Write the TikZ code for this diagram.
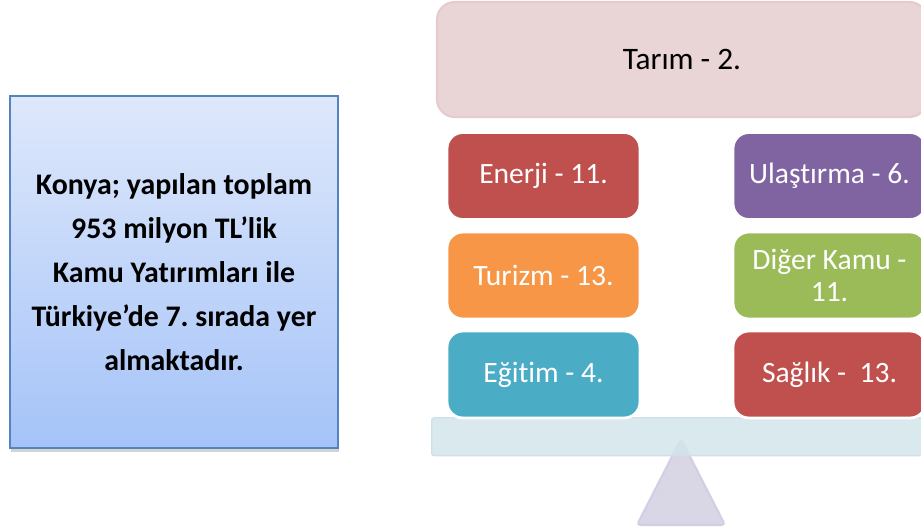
\documentclass[tikz,border=0pt]{standalone}
\usepackage{fontspec}
\setmainfont[Ligatures=NoCommon]{Carlito}
\frenchspacing
\usetikzlibrary{positioning, shadows}
\definecolor{cinfotop}{HTML}{DEE8FB}
\definecolor{cinfobot}{HTML}{A5C3F8}
\definecolor{cinfoline}{HTML}{5384C0}
\definecolor{ctarim}{HTML}{EAD5D6}
\definecolor{ctarimline}{HTML}{E5CBCC}
\definecolor{cred}{HTML}{C0504D}
\definecolor{corange}{HTML}{F79646}
\definecolor{cteal}{HTML}{4BACC6}
\definecolor{cpurple}{HTML}{8064A2}
\definecolor{cgreen}{HTML}{9BBB59}
\definecolor{cbeam}{HTML}{D3E5EB}
\definecolor{cbeamline}{HTML}{CFE1E8}
\definecolor{cpivot}{HTML}{D9D6E5}
\definecolor{cpivotline}{HTML}{D3CEE3}
\tikzset{
  every picture/.style={x=0.02cm, y=-0.02cm, line width=0.8pt},
  tile/.style={fill=#1, draw=white, line width=1.6pt, rounded corners=9pt, align=center,
    minimum width=3.86cm, minimum height=1.74cm, text=white, inner sep=2pt,
    font=\fontsize{16.8}{18.5}\selectfont},
  tile/.default=cred,
  info/.style={draw=cinfoline, top color=cinfotop, bottom color=cinfobot, align=center,
    minimum width=6.56cm, minimum height=7.04cm, line width=1pt,
    drop shadow={shadow xshift=0.5pt, shadow yshift=-2.5pt, opacity=0.35},
    font=\bfseries\fontsize{17}{25}\selectfont},
  head/.style={draw=ctarimline, fill=ctarim, rounded corners=10pt, line width=1.2pt,
    minimum width=9.8cm, minimum height=2.3cm, font=\fontsize{17.8}{19}\selectfont},
  beam/.style={draw=cbeamline, fill=cbeam, fill opacity=0.85, rounded corners=1.5pt,
    minimum width=10cm, minimum height=0.76cm, inner sep=0pt},
  pivot/.style={draw=cpivotline, fill=cpivot, line width=1.2pt, rounded corners=2pt},
}

\begin{document}
\begin{tikzpicture}
  \useasboundingbox (0,0) rectangle (921,531);

  % balance: pivot and beam
  \draw[pivot] (681,439) -- (725,525) -- (637,525) -- cycle;
  \node[beam, anchor=north west] (beam) at (431,417) {};

  % left info box
  \node[info] (konya) at (174,272) {Konya; yapılan toplam\\953 milyon TL’lik\\Kamu Yatırımları ile\\Türkiye’de 7. sırada yer\\almaktadır.};

  % top sector
  \node[head] (tarim) at (682,59.5) {Tarım - 2.};

  % left column
  \node[tile=cred] (enerji) at (543.5,176) {Enerji - 11.};
  \node[tile=corange] (turizm) at (543.5,275.5) {Turizm - 13.};
  \node[tile=cteal] (egitim) at (543.5,374.5) {Eğitim - 4.};

  % right column
  \node[tile=cpurple] (ulastirma) at (829.5,176) {Ulaştırma - 6.};
  \node[tile=cgreen] (diger) at (829.5,275.5) {Diğer Kamu -\\11.};
  \node[tile=cred] (saglik) at (829.5,374.5) {Sağlık -~~13.};
\end{tikzpicture}
\end{document}
